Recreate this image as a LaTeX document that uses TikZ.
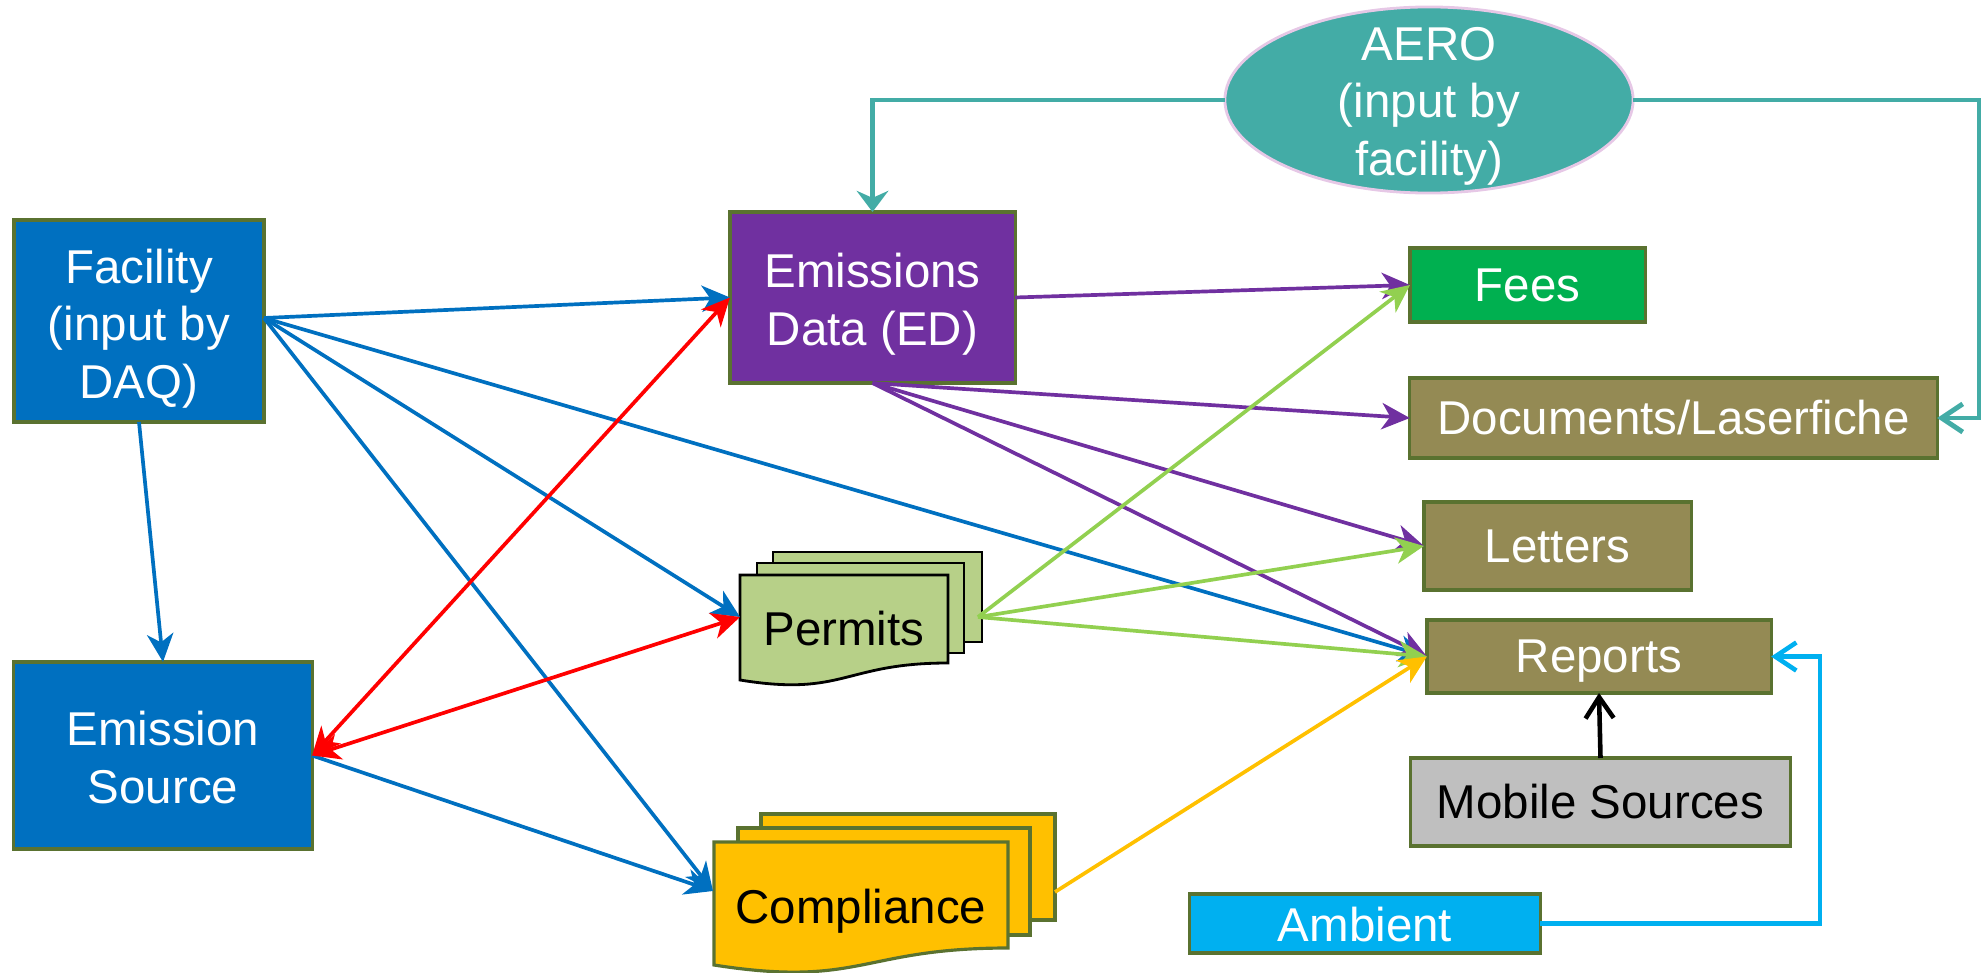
\documentclass[tikz,border=0pt]{standalone}
\usepackage{fontspec}
\setmainfont{Liberation Sans}
\usetikzlibrary{arrows.meta,shapes.geometric}
\definecolor{cBlue}{HTML}{0070C0}
\definecolor{cRed}{HTML}{FF0000}
\definecolor{cPurple}{HTML}{7030A0}
\definecolor{cLGreen}{HTML}{92D050}
\definecolor{cYellow}{HTML}{FFC000}
\definecolor{cTeal}{HTML}{43ACA6}
\definecolor{cCyan}{HTML}{00B0F0}
\definecolor{cFees}{HTML}{00B050}
\definecolor{cOlive}{HTML}{948A54}
\definecolor{cGray}{HTML}{BFBFBF}
\definecolor{cBorder}{HTML}{5A7230}
\definecolor{cPink}{HTML}{E6C8E6}
\definecolor{cPermit}{HTML}{B7D088}
\newcommand\myrule[1]{\rule{0pt}{#1}}
\begin{document}
\begin{tikzpicture}[x=0.01cm,y=-0.01cm,
  font=\fontsize{13.5}{16.4}\selectfont,
  box/.style={draw=cBorder, line width=0.9pt, inner sep=0pt, outer sep=0pt, align=center, text=white},
  conn/.style={line width=1.05pt, -{Stealth[length=8pt,width=7.5pt,inset=2.4pt]}},
  dconn/.style={line width=1.05pt, {Stealth[length=8pt,width=7.5pt,inset=2.4pt]}-{Stealth[length=8pt,width=7.5pt,inset=2.4pt]}},
  openarrow/.style={-{Straight Barb[length=6pt,width=8pt]}},
  docpermit/.style={fill=cPermit, draw=black, line width=0.8pt},
  doccomp/.style={fill=cYellow, draw=cBorder, line width=0.9pt},
  doctext/.style={inner sep=0pt, text=black}
]
\useasboundingbox (0,0) rectangle (1982,973);

% ---- boxes ----
\node[box, fill=cBlue, minimum width=2.50cm, minimum height=2.02cm] (fac) at (139,321) {\myrule{14pt}Facility\\(input by\\DAQ)};
\node[box, fill=cBlue, minimum width=2.98cm, minimum height=1.87cm] (src) at (163,755.5) {\myrule{11pt}Emission\\Source};
\node[box, fill=cPurple, minimum width=2.85cm, minimum height=1.71cm] (ed) at (872.5,297.5) {\myrule{13.5pt}Emissions\\Data (ED)};
\node[ellipse, fill=cTeal, draw=cPink, line width=0.8pt, inner sep=0pt, outer sep=0pt,
      minimum width=4.08cm, minimum height=1.86cm,
      label={[align=center, text=white, inner sep=0pt]center:\myrule{13pt}AERO\\(input by\\facility)}] (aero) at (1429,100) {};
\node[box, fill=cFees, minimum width=2.35cm, minimum height=0.74cm] (fees) at (1527.5,285) {Fees};
\node[box, fill=cOlive, minimum width=5.27cm, minimum height=0.80cm] (docs) at (1673.5,418) {Documents/Laserfiche};
\node[box, fill=cOlive, minimum width=2.67cm, minimum height=0.88cm] (let) at (1557.5,546) {Letters};
\node[box, fill=cOlive, minimum width=3.44cm, minimum height=0.73cm] (rep) at (1599,656.5) {\myrule{12pt}Reports};
\node[box, fill=cGray, text=black, minimum width=3.79cm, minimum height=0.88cm] (mob) at (1600.5,802) {Mobile Sources};
\node[box, fill=cCyan, minimum width=3.50cm, minimum height=0.59cm] (amb) at (1365,923.5) {\myrule{10.5pt}Ambient};

% ---- Permits (multi-document) ----
\filldraw[docpermit] (773,552) rectangle (982,642);
\filldraw[docpermit] (757,563) rectangle (964,653);
\filldraw[docpermit] (740,575) -- (948,575) -- (948,663) .. controls (844,663) and (844,697) .. (740,680) -- cycle;
\node[doctext] (perm) at (844,629) {Permits};
\coordinate (permL) at (740,617);
\coordinate (permR) at (978,617);

% ---- Compliance (multi-document) ----
\filldraw[doccomp] (761,814) rectangle (1055,920);
\filldraw[doccomp] (738,828) rectangle (1030,935);
\filldraw[doccomp] (714,842) -- (1008,842) -- (1008,948) .. controls (861,948) and (861,988) .. (714,965) -- cycle;
\node[doctext] (comp) at (861,911) {Compliance};
\coordinate (compL) at (713,891);
\coordinate (compR) at (1055,892);

% ---- connectors ----
\coordinate (facR) at (264,318);
\draw[conn, cBlue] (facR) -- (ed.west);
\draw[conn, cBlue] (facR) -- (rep.west);
\draw[conn, cBlue] (facR) -- (permL);
\draw[conn, cBlue] (facR) -- (compL);
\draw[conn, cBlue] (fac.south) -- (src.north);
\draw[conn, cBlue] (src.east) -- (compL);
\draw[dconn, cRed] (src.east) -- (ed.west);
\draw[dconn, cRed] (src.east) -- (permL);

\draw[conn, cPurple] (ed.east) -- (fees.west);
\draw[conn, cPurple] (ed.south) -- (docs.west);
\draw[conn, cPurple] (ed.south) -- (let.west);
\draw[conn, cPurple] (ed.south) -- (rep.west);

\draw[conn, cLGreen] (permR) -- (fees.west);
\draw[conn, cLGreen] (permR) -- (let.west);
\draw[conn, cLGreen] (permR) -- (rep.west);

\draw[conn, cYellow] (compR) -- (rep.west);

\draw[line width=1.4pt, cTeal, -{Stealth[length=6pt,width=9pt,inset=2pt]}] (aero.west) -| (ed.north);
\coordinate (tealTR) at (1979,100);
\draw[line width=1.4pt, cTeal, openarrow] (aero.east) -- (tealTR) |- (docs.east);

\coordinate (cyanBR) at (1820,923.5);
\draw[line width=1.3pt, cCyan, openarrow] (amb.east) -- (cyanBR) |- (rep.east);

\draw[line width=1.3pt, black, openarrow] (mob.north) -- (rep.south);
\end{tikzpicture}
\end{document}
